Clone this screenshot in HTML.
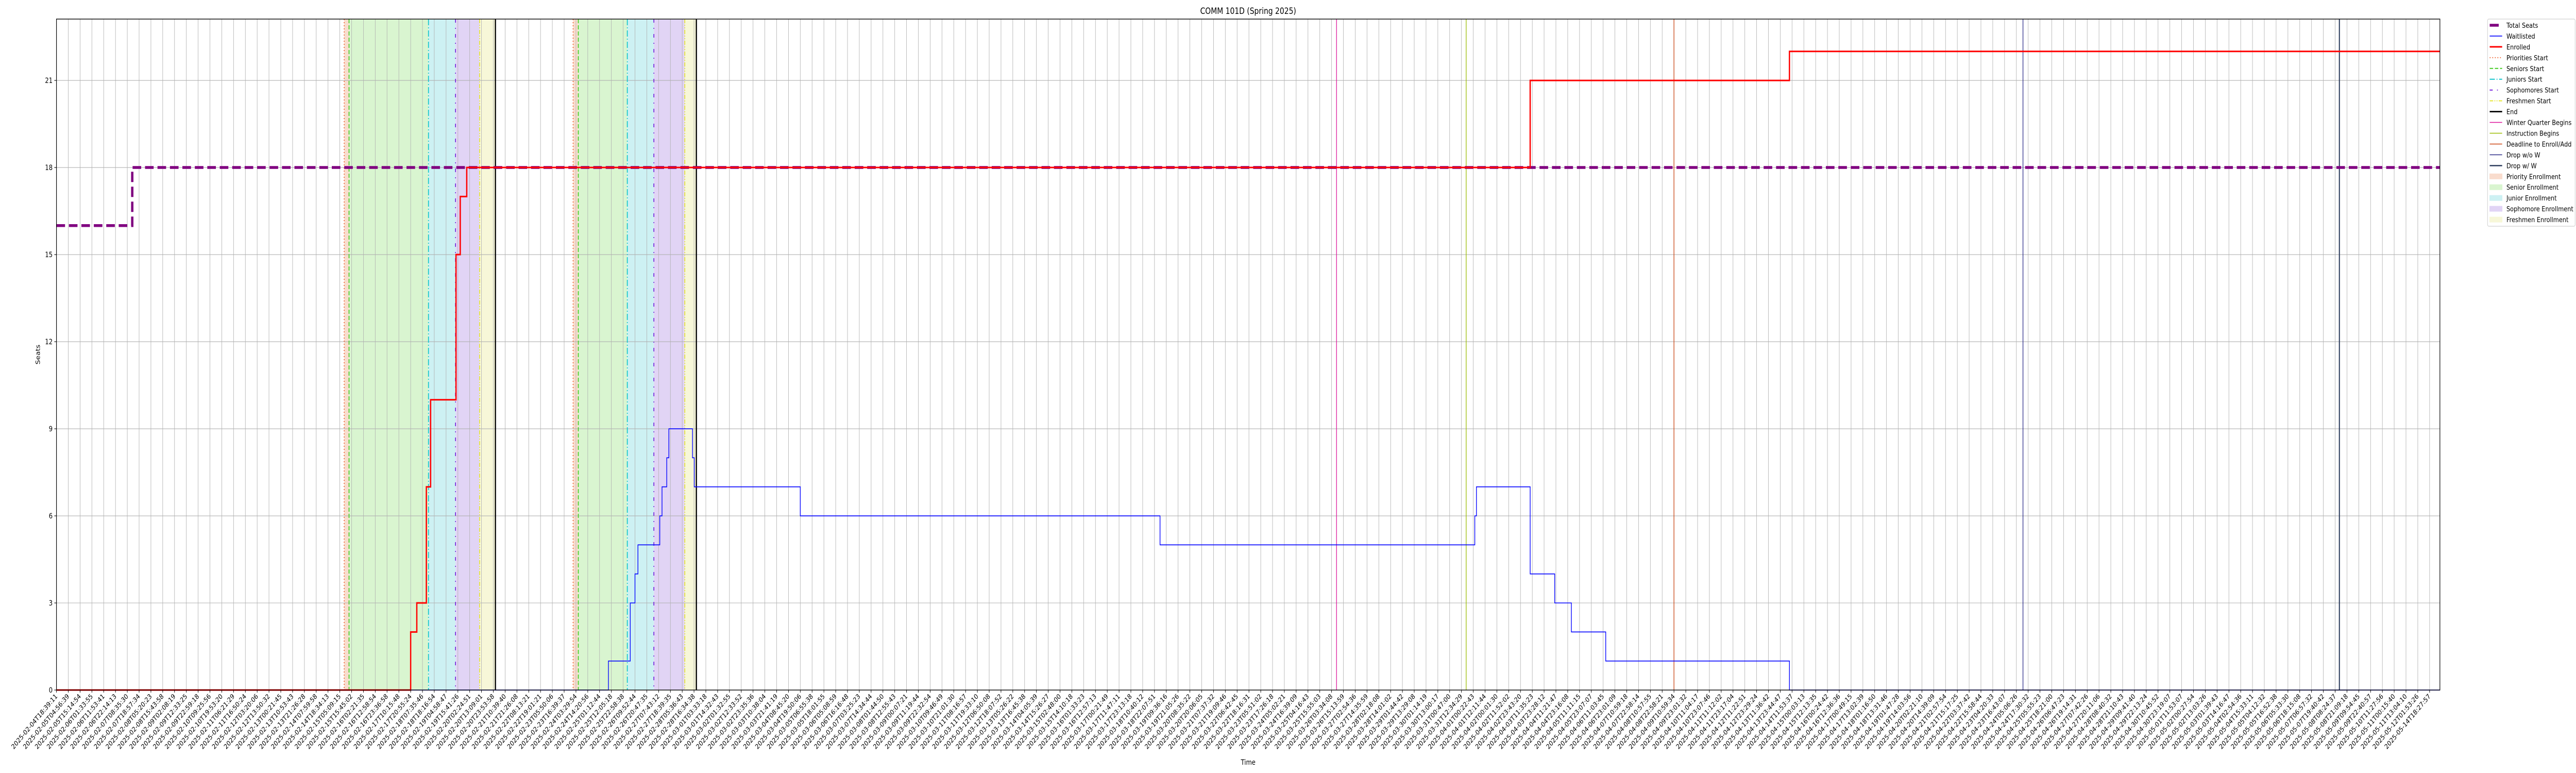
<!DOCTYPE html>
<html><head><meta charset="utf-8"><title>COMM 101D (Spring 2025)</title>
<style>html,body{margin:0;padding:0;background:#fff;width:100vw;height:100vh;overflow:hidden;}svg{display:block;width:100vw;height:100vh;font-family:"DejaVu Sans","Liberation Sans",sans-serif;}</style>
</head><body>
<svg id="chart" viewBox="0 0 6000 1500" preserveAspectRatio="none" xmlns="http://www.w3.org/2000/svg" overflow="hidden">
<rect width="6000" height="1500" fill="#fff"/>
<g id="spans"></g><g id="grid"></g><g id="events"></g><g id="series"></g><g id="axes"></g><g id="legend"></g>
</svg>
<script>
// ---- data (x in time-index units, y in seats) ----
const totalSeatsX = [0, 6.42];
const totalSeatsY = [16, 18];
const enrolledX = [0, 30.0, 30.52, 31.33, 31.69, 33.84, 34.2, 34.75, 124.82, 146.78];
const enrolledY = [0, 2, 3, 7, 10, 15, 17, 18, 21, 22];
const waitlistX = [0, 46.75, 48.6, 49.0, 49.25, 51.1, 51.29, 51.69, 51.87, 53.87, 54.02, 63.0, 93.47, 120.13, 120.27, 124.82, 126.9, 128.31, 131.22, 146.78];
const waitlistY = [0, 1, 3, 4, 5, 6, 7, 8, 9, 8, 7, 6, 5, 6, 7, 4, 3, 2, 1, 0];
const spanNames = ["priority","senior","junior","sophomore","freshmen","priority","senior","junior","sophomore","freshmen"];
const spanStart = [24.37, 24.78, 31.51, 33.8, 35.84, 43.76, 44.2, 48.35, 50.6, 53.22];
const spanEnd   = [24.78, 31.51, 33.8, 35.84, 37.18, 44.2, 48.35, 50.6, 53.22, 54.2];
const eventNames = ["priorities-start","seniors-start","juniors-start","sophomores-start","freshmen-start","end","priorities-start","seniors-start","juniors-start","sophomores-start","freshmen-start","end","winter-quarter-begins","instruction-begins","deadline-to-enroll","drop-without-w","drop-with-w"];
const eventKinds = ["prio","sen","jun","soph","fresh","end","prio","sen","jun","soph","fresh","end","winter","instr","deadline","dropwo","dropw"];
const eventX = [24.37, 24.78, 31.51, 33.8, 35.84, 37.18, 43.76, 44.2, 48.35, 50.6, 53.22, 54.2, 108.42, 119.4, 137.0, 166.56, 193.36];
const yTicks = [0, 3, 6, 9, 12, 15, 18, 21];
const tickCount = 202;
const tickLabels = [];
(function(){
  const start = Date.UTC(2025,1,4,18,39,11);
  const last2 = Date.UTC(2025,4,12,1,53,26);
  const last = Date.UTC(2025,4,14,18,27,57);
  const n = tickCount - 2;
  const total = last2 - start;
  const pad = v => String(v).padStart(2,'0');
  for (let i = 0; i < tickCount; i++) {
    let t;
    if (i === tickCount - 1) t = last;
    else { const f = i / n; t = start + total * (0.89 * f + 0.11 * f * f); }
    const d = new Date(t);
    tickLabels.push(d.getUTCFullYear()+'-'+pad(d.getUTCMonth()+1)+'-'+pad(d.getUTCDate())+'T'+pad(d.getUTCHours())+':'+pad(d.getUTCMinutes())+':'+pad(d.getUTCSeconds()));
  }
})();

// ---- layout ----
const L = 131.5, R = 5683, T = 37, B = 1339;
const XMAX = (R - L) / 27.5;
const sx = v => L + v * 27.5;
const sy = v => B - v * 56.33;
const NS = "http://www.w3.org/2000/svg";
function mk(tag, attrs, parent) {
  const e = document.createElementNS(NS, tag);
  for (const k in attrs) e.setAttribute(k, attrs[k]);
  parent.appendChild(e);
  return e;
}
const spanFill = {priority:"#f9dccd", senior:"#d9f5d0", junior:"#cdf1f3", sophomore:"#e1d4f5", freshmen:"#f7f7d8"};
const evStyle = {
  prio:{c:"#ee6633",w:2,d:"2,4"}, sen:{c:"#44cc22",w:2,d:"8,4"}, jun:{c:"#11c4cc",w:2,d:"12,4,2,4"},
  soph:{c:"#7722dd",w:2,d:"7,10,2,10"}, fresh:{c:"#e6e633",w:2,d:"8,3,2,3,2,3"}, end:{c:"#000",w:2.8,d:""},
  winter:{c:"#dd1199",w:1.5,d:""}, instr:{c:"#99bb00",w:1.5,d:""}, deadline:{c:"#cc4411",w:1.5,d:""},
  dropwo:{c:"#2a2a88",w:1.5,d:""}, dropw:{c:"#2f3f5f",w:2.5,d:""}
};

const gS = document.getElementById('spans');
for (let i = 0; i < spanStart.length; i++) {
  const r = mk('rect', {x: sx(spanStart[i]), y: T, width: sx(spanEnd[i]) - sx(spanStart[i]), height: B - T, fill: spanFill[spanNames[i]]}, gS);
  
  
}
const gG = document.getElementById('grid');
for (let i = 0; i < tickCount; i++) {
  const ln = mk('line', {x1: sx(i), x2: sx(i), y1: T, y2: B, stroke: "#b0b0b0", "stroke-width": 1}, gG);
  
  
}
yTicks.forEach(v => {
  const ln = mk('line', {x1: L, x2: R, y1: sy(v), y2: sy(v), stroke: "#b0b0b0", "stroke-width": 1.1}, gG);
  
  
});
const gE = document.getElementById('events');
for (let i = 0; i < eventX.length; i++) {
  const s = evStyle[eventKinds[i]];
  const a = {x1: sx(eventX[i]), x2: sx(eventX[i]), y1: T, y2: B, stroke: s.c, "stroke-width": s.w};
  if (s.d) a["stroke-dasharray"] = s.d;
  const ln = mk('line', a, gE);
  
  
}
function stepPath(xs, ys) {
  let d = 'M' + sx(xs[0]) + ',' + sy(ys[0]);
  for (let i = 1; i < xs.length; i++) d += ' L' + sx(xs[i]) + ',' + sy(ys[i-1]) + ' L' + sx(xs[i]) + ',' + sy(ys[i]);
  d += ' L' + sx(XMAX) + ',' + sy(ys[ys.length-1]);
  return d;
}
const gSe = document.getElementById('series');
const pT = mk('path', {d: stepPath(totalSeatsX, totalSeatsY), fill: "none", stroke: "#800080", "stroke-width": 5.5, "stroke-dasharray": "20,9"}, gSe);


const pW = mk('path', {d: stepPath(waitlistX, waitlistY), fill: "none", stroke: "#0000ff", "stroke-width": 1.6}, gSe);


const pE = mk('path', {d: stepPath(enrolledX, enrolledY), fill: "none", stroke: "#ff0000", "stroke-width": 3}, gSe);



const gA = document.getElementById('axes');
const frame = mk('rect', {x: L, y: T, width: R - L, height: B - T, fill: "none", stroke: "#000", "stroke-width": 1.4}, gA);


for (let i = 0; i < tickCount; i++) {
  const tk = mk('line', {x1: sx(i), x2: sx(i), y1: B, y2: B + 5, stroke: "#000", "stroke-width": 1.1}, gA);
  
  
  const tx = mk('text', {x: 0, y: 0, "font-size": 13.3, "text-anchor": "end", transform: 'translate(' + (sx(i) + 3) + ',' + (B + 13) + ') rotate(-45)'}, gA);
  tx.textContent = tickLabels[i];
  
  
}
yTicks.forEach(v => {
  const tk = mk('line', {x1: L - 5, x2: L, y1: sy(v), y2: sy(v), stroke: "#000", "stroke-width": 1.1}, gA);
  
  
  const tx = mk('text', {x: L - 9, y: sy(v) + 5, "font-size": 13.9, "text-anchor": "end"}, gA);
  tx.textContent = String(v);
  
  
});
const title = mk('text', {x: (L + R) / 2, y: 27, "font-size": 16.7, "text-anchor": "middle"}, gA);
title.textContent = "COMM 101D (Spring 2025)";


const xt = mk('text', {x: (L + R) / 2, y: 1484, "font-size": 13.9, "text-anchor": "middle"}, gA);
xt.textContent = "Time";


const yt = mk('text', {x: 0, y: 0, "font-size": 13.9, "text-anchor": "middle", transform: 'translate(93,' + ((T + B) / 2) + ') rotate(-90)'}, gA);
yt.textContent = "Seats";



const legLabels = ["Total Seats","Waitlisted","Enrolled","Priorities Start","Seniors Start","Juniors Start","Sophomores Start","Freshmen Start","End","Winter Quarter Begins","Instruction Begins","Deadline to Enroll/Add","Drop w/o W","Drop w/ W","Priority Enrollment","Senior Enrollment","Junior Enrollment","Sophomore Enrollment","Freshmen Enrollment"];
const legKinds = ["total","wait","enr","prio","sen","jun","soph","fresh","end","winter","instr","deadline","dropwo","dropw","priority","senior","junior","sophomore","freshmen"];
const gL = document.getElementById('legend');
const lbox = mk('rect', {x: 5794, y: 37, width: 204, height: 402, rx: 3, fill: "#fff", "fill-opacity": 0.8, stroke: "#d0d0d0", "stroke-width": 1.2}, gL);


for (let i = 0; i < legLabels.length; i++) {
  const cy = 49 + i * 20.95;
  const k = legKinds[i];
  const g = mk('g', {}, gL);
  
  
  if (k === "total") mk('line', {x1: 5799, x2: 5820, y1: cy, y2: cy, stroke: "#800080", "stroke-width": 5.5}, g);
  else if (k === "wait") mk('line', {x1: 5799, x2: 5828, y1: cy, y2: cy, stroke: "#0000ff", "stroke-width": 1.6}, g);
  else if (k === "enr") mk('line', {x1: 5799, x2: 5828, y1: cy, y2: cy, stroke: "#ff0000", "stroke-width": 3}, g);
  else if (spanFill[k]) mk('rect', {x: 5799, y: cy - 5, width: 29, height: 10, fill: spanFill[k], stroke: spanFill[k], "stroke-width": 1}, g);
  else {
    const s = evStyle[k];
    const a = {x1: 5799, x2: 5828, y1: cy, y2: cy, stroke: s.c, "stroke-width": s.w};
    if (s.d) a["stroke-dasharray"] = s.d;
    mk('line', a, g);
  }
  const t = mk('text', {x: 5838, y: cy + 5, "font-size": 13.6}, g);
  t.textContent = legLabels[i];
}
</script>
</body></html>
